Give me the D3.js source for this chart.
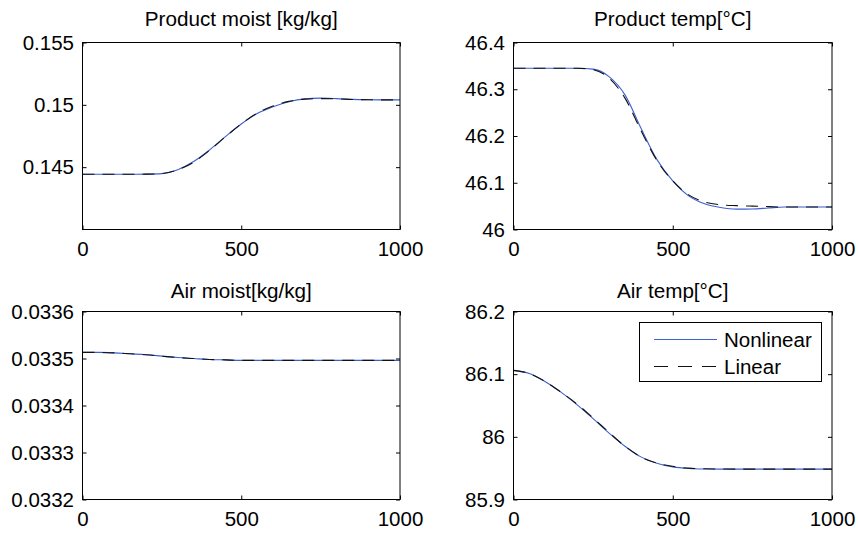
<!DOCTYPE html>
<html>
<head>
<meta charset="utf-8"/>
<title>Nonlinear vs linear model</title>
<script src="https://d3js.org/d3.v7.min.js"></script>
<style>
  body { margin: 0; background: #fff; }
  svg text { font-family: "Liberation Sans", Arial, Helvetica, sans-serif; fill: #000; }
</style>
</head>
<body>
<div id="chart"></div>
<script>
// time axis (samples)
var time = [0, 50, 100, 150, 200, 250, 300, 350, 400, 450, 500,
            550, 600, 650, 700, 750, 800, 850, 900, 950, 1000];

// Product moist [kg/kg]
var prodMoistNonlin = [0.14443, 0.14443, 0.14443, 0.14443, 0.14444, 0.14448, 0.14480, 0.14545, 0.14638, 0.14745, 0.14846,
                       0.14930, 0.14985, 0.15025, 0.15048, 0.15054, 0.15050, 0.15044, 0.15041, 0.15040, 0.15040];
var prodMoistLin    = [0.14443, 0.14443, 0.14443, 0.14443, 0.14444, 0.14449, 0.14478, 0.14540, 0.14634, 0.14743, 0.14847,
                       0.14933, 0.14990, 0.15028, 0.15046, 0.15050, 0.15048, 0.15043, 0.15041, 0.15040, 0.15040];

// Product temp [°C]
var prodTempNonlin = [46.345, 46.345, 46.345, 46.345, 46.345, 46.343, 46.327, 46.288, 46.217, 46.150, 46.104,
                      46.072, 46.055, 46.047, 46.0435, 46.044, 46.046, 46.048, 46.048, 46.048, 46.048];
var prodTempLin    = [46.345, 46.345, 46.345, 46.345, 46.345, 46.342, 46.324, 46.281, 46.212, 46.148, 46.104,
                      46.074, 46.059, 46.053, 46.051, 46.050, 46.049, 46.048, 46.048, 46.048, 46.048];

// Air moist [kg/kg]
var airMoistNonlin = [0.033513, 0.033513, 0.033512, 0.033510, 0.033508, 0.033505, 0.033502, 0.033500, 0.033498, 0.033497, 0.033496,
                      0.033496, 0.033496, 0.033496, 0.033496, 0.033496, 0.033496, 0.033496, 0.033496, 0.033496, 0.033496];
var airMoistLin    = [0.033513, 0.033513, 0.033512, 0.033510, 0.033508, 0.033505, 0.033502, 0.033500, 0.033498, 0.033497, 0.033496,
                      0.033496, 0.033496, 0.033496, 0.033496, 0.033496, 0.033496, 0.033496, 0.033496, 0.033496, 0.033496];

// Air temp [°C]
var airTempNonlin = [86.106, 86.101, 86.088, 86.071, 86.051, 86.029, 86.006, 85.985, 85.968, 85.958, 85.952,
                     85.9495, 85.9487, 85.9485, 85.9485, 85.9485, 85.9485, 85.9485, 85.9485, 85.9485, 85.9485];
var airTempLin    = [86.106, 86.101, 86.088, 86.071, 86.052, 86.030, 86.007, 85.985, 85.968, 85.958, 85.953,
                     85.950, 85.949, 85.9487, 85.9485, 85.9485, 85.9485, 85.9485, 85.9485, 85.9485, 85.9485];

var xTicks = [0, 500, 1000];
var prodMoistTicks = [0.145, 0.15, 0.155];
var prodTempTicks = [46, 46.1, 46.2, 46.3, 46.4];
var airMoistTicks = [0.0332, 0.0333, 0.0334, 0.0335, 0.0336];
var airTempTicks = [85.9, 86, 86.1, 86.2];

var titles = ["Product moist [kg/kg]", "Product temp[\u00b0C]", "Air moist[kg/kg]", "Air temp[\u00b0C]"];
var legendNames = ["Nonlinear", "Linear"];

var width = 858, height = 534;
var svg = d3.select('#chart').append('svg')
            .attr('width', width)
            .attr('height', height);

var blue = '#3d5fd0';
var tickFont = 20.5;
var titleFont = 19.5;

var panels = [
  { title: titles[0], titleY: 25.5, box: [82.5, 42.5, 400, 229.5], ydom: [0.14, 0.155], yticks: prodMoistTicks, nl: prodMoistNonlin, li: prodMoistLin },
  { title: titles[1], titleY: 25.5, box: [513.5, 42.5, 832, 229.5], ydom: [46, 46.4], yticks: prodTempTicks, nl: prodTempNonlin, li: prodTempLin },
  { title: titles[2], titleY: 297.5, box: [82.5, 311.5, 400, 499.5], ydom: [0.0332, 0.0336], yticks: airMoistTicks, nl: airMoistNonlin, li: airMoistLin },
  { title: titles[3], titleY: 297.5, box: [513.5, 311.5, 832, 499.5], ydom: [85.9, 86.2], yticks: airTempTicks, nl: airTempNonlin, li: airTempLin, legend: true }
];

panels.forEach(function(p) {
  var x0 = p.box[0], y0 = p.box[1], x1 = p.box[2], y1 = p.box[3];
  var x = d3.scaleLinear().domain([0, 1000]).range([x0, x1]);
  var y = d3.scaleLinear().domain(p.ydom).range([y1, y0]);
  var g = svg.append('g');

  var line = function(vals) {
    return d3.line()
      .x(function(d, i) { return x(time[i]); })
      .y(function(d) { return y(d); })
      .curve(d3.curveMonotoneX)(vals);
  };

  g.append('path').attr('d', line(p.nl))
    .attr('fill', 'none').attr('stroke', blue).attr('stroke-width', 1.1);
  g.append('path').attr('d', line(p.li))
    .attr('fill', 'none').attr('stroke', '#111').attr('stroke-width', 1.1)
    .attr('stroke-dasharray', '12,8');

  // box
  g.append('rect').attr('x', x0).attr('y', y0)
    .attr('width', x1 - x0).attr('height', y1 - y0)
    .attr('fill', 'none').attr('stroke', '#000').attr('stroke-width', 1);

  // axes with inward ticks, mirrored on the other side
  var tl = 4;
  g.append('g').attr('transform', 'translate(0,' + y1 + ')')
    .call(d3.axisBottom(x).tickValues(xTicks).tickSize(-tl).tickPadding(12).tickFormat(d3.format('d')))
    .call(styleAxis);
  g.append('g').attr('transform', 'translate(0,' + y0 + ')')
    .call(d3.axisTop(x).tickValues(xTicks).tickSize(-tl).tickFormat(''))
    .call(styleAxis);
  g.append('g').attr('transform', 'translate(' + x0 + ',0)')
    .call(d3.axisLeft(y).tickValues(p.yticks).tickSize(-tl).tickPadding(8.5).tickFormat(function(d) { return String(+d.toFixed(6)); }))
    .call(styleAxis);
  g.append('g').attr('transform', 'translate(' + x1 + ',0)')
    .call(d3.axisRight(y).tickValues(p.yticks).tickSize(-tl).tickFormat(''))
    .call(styleAxis);

  var cx = (x0 + x1) / 2;
  g.append('text')
    .attr('transform', 'translate(' + cx + ',' + p.titleY + ') scale(1.06,1)')
    .attr('text-anchor', 'middle').attr('font-size', titleFont).text(p.title);

  if (p.legend) {
    var lg = svg.append('g');
    lg.append('rect').attr('x', 639.5).attr('y', 322.5).attr('width', 182).attr('height', 59)
      .attr('fill', '#fff').attr('stroke', '#000').attr('stroke-width', 1);
    legendNames.forEach(function(name, i) {
      var ly = 339.5 + i * 27;
      lg.append('line').attr('x1', 654).attr('x2', 717).attr('y1', ly).attr('y2', ly)
        .attr('stroke', i === 0 ? blue : '#111').attr('stroke-width', 1.1)
        .attr('stroke-dasharray', i === 0 ? null : '14,10');
      lg.append('text').attr('x', 724).attr('y', ly).attr('dy', '0.35em')
        .attr('font-size', tickFont).text(name);
    });
  }
});

function styleAxis(sel) {
  sel.select('.domain').remove();
  sel.selectAll('.tick line').attr('stroke', '#000');
  sel.selectAll('.tick text').attr('font-size', tickFont).attr('fill', '#000')
     .style('font-family', '"Liberation Sans", Arial, sans-serif');
}
</script>
</body>
</html>
